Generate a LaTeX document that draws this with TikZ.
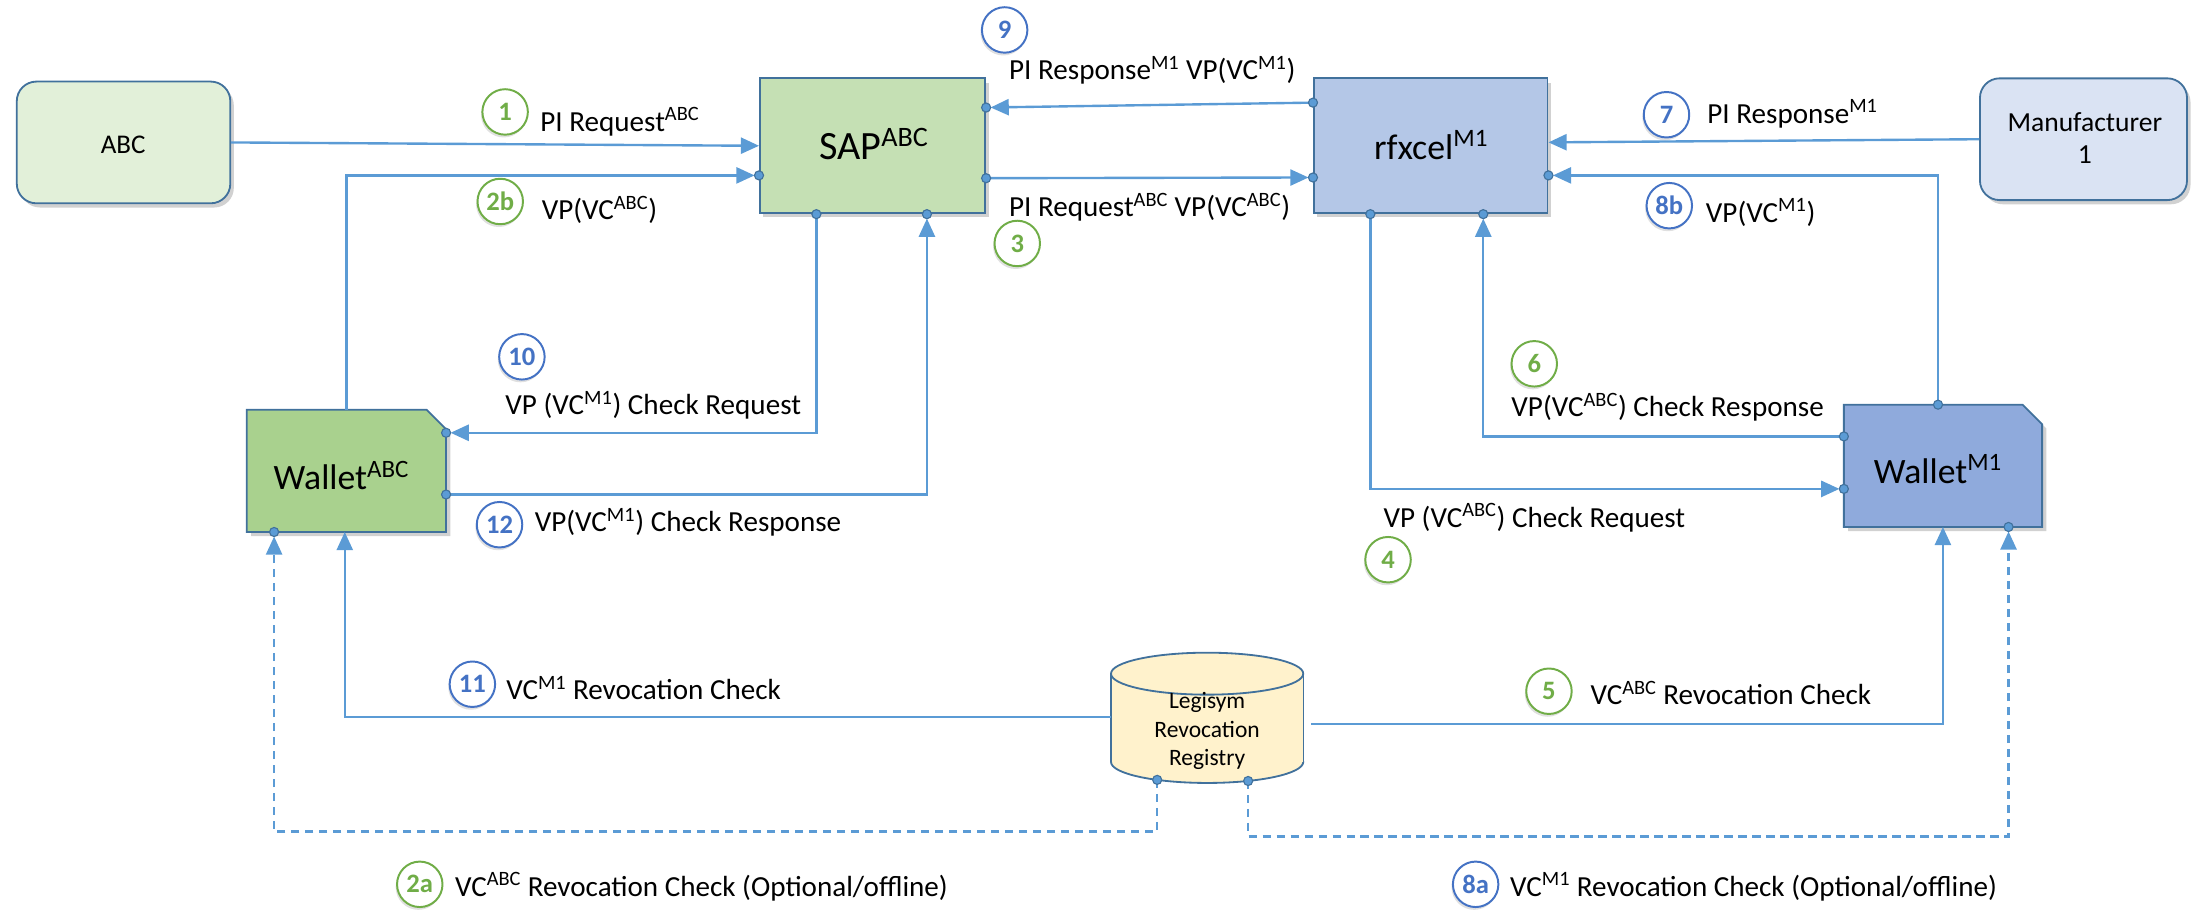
\documentclass[tikz,border=0pt]{standalone}
\usepackage{fontspec}
\setmainfont{Carlito}
\usetikzlibrary{arrows.meta,calc,shadows}
\definecolor{ln}{HTML}{5B9BD5}
\definecolor{bd}{HTML}{41719C}
\definecolor{abcf}{HTML}{E2F0D9}
\definecolor{sapf}{HTML}{C5E0B4}
\definecolor{rff}{HTML}{B4C7E7}
\definecolor{mff}{HTML}{DAE3F3}
\definecolor{waf}{HTML}{A9D18E}
\definecolor{wmf}{HTML}{8FAADC}
\definecolor{regf}{HTML}{FFF2CC}
\definecolor{ng}{HTML}{70AD47}
\definecolor{nb}{HTML}{4472C4}
\pgfdeclarelayer{bg}
\pgfsetlayers{bg,main}
\begin{document}
\begin{tikzpicture}[x=1pt,y=-1pt,
  nbox/.style={draw=bd, line width=1.3pt, inner sep=0pt},
  shad/.style={drop shadow={shadow xshift=2.5pt, shadow yshift=-3pt, opacity=0.3, fill=black!60}},
  conn/.style={draw=ln, line width=1.7pt},
  arr/.style={conn, -{Triangle[length=13pt,width=11.5pt]}},
  dsh/.style={dash pattern=on 6pt off 4pt},
  jdot/.style={circle, fill=ln, draw=bd, line width=0.8pt, inner sep=0pt, minimum size=6.5pt},
  lbl/.style={font=\fontsize{20.8}{25}\selectfont, inner sep=0pt, anchor=base west},
  btxt/.style={inner sep=0pt, anchor=base},
  ncirc/.style={circle, draw=#1, line width=1.4pt, text=#1, fill=white, minimum size=32.5pt, inner sep=0pt, font=\fontsize{19}{22}\selectfont\bfseries, drop shadow={shadow xshift=-1pt, shadow yshift=-2pt, opacity=0.2, fill=black!60}},
]
\useasboundingbox (0,0) rectangle (1568,650);

% main boxes
\node[nbox, rounded corners=14pt, fill=abcf, minimum width=152.6pt, minimum height=87pt, shad] (abc) at (88.3,101.8) {};
\node[btxt, font=\fontsize{19.3}{23}\selectfont] (abct) at (88,109.5) {ABC};
\node[nbox, fill=sapf, minimum width=161pt, minimum height=96.4pt, shad] (sap) at (623.6,104.2) {};
\node[btxt, font=\fontsize{28.7}{34}\selectfont] (sapt) at (624.6,113.8) {SAP\textsuperscript{ABC}};
\node[nbox, fill=rff, minimum width=167pt, minimum height=96.4pt, shad] (rf) at (1022.5,104.2) {};
\node[btxt, font=\fontsize{25.6}{30}\selectfont] (rft) at (1022.8,113.8) {rfxcel\textsuperscript{M1}};
\node[nbox, rounded corners=14pt, fill=mff, minimum width=148pt, minimum height=87pt, shad] (mf) at (1489,99.5) {};
\node[btxt, font=\fontsize{19.7}{23}\selectfont] (mft1) at (1490,94) {Manufacturer};
\node[btxt, font=\fontsize{19.7}{23}\selectfont] (mft2) at (1490,116.7) {1};

% wallets (outline drawn on background)
\node[minimum width=142pt, minimum height=87pt, inner sep=0pt] (wa) at (247.6,336.5) {};
\node[btxt, font=\fontsize{25.5}{30}\selectfont] (wat) at (244,350) {Wallet\textsuperscript{ABC}};
\node[minimum width=141.3pt, minimum height=87pt, inner sep=0pt] (wm) at (1388.6,332.9) {};
\node[btxt, font=\fontsize{25.5}{30}\selectfont] (wmt) at (1385,345.2) {Wallet\textsuperscript{M1}};
% registry
\node[minimum width=137.4pt, minimum height=92.7pt, inner sep=0pt] (reg) at (862.7,513) {};
\node[align=center, inner sep=0pt, font=\fontsize{16.8}{20.5}\selectfont] (regt) at (862.7,522.5) {Legisym\\Revocation\\Registry};

\begin{pgfonlayer}{bg}
  \fill[black!60, opacity=0.3] ([shift={(3,3)}]wa.north west) -- ([shift={(-11,3)}]wa.north east) -- ([shift={(3,17)}]wa.north east) -- ([shift={(3,3)}]wa.south east) -- ([shift={(3,3)}]wa.south west) -- cycle;
  \filldraw[fill=waf, draw=bd, line width=1.3pt] (wa.north west) -- ([xshift=-14pt]wa.north east) -- ([yshift=-14pt]wa.north east) -- (wa.south east) -- (wa.south west) -- cycle;
  \fill[black!60, opacity=0.3] ([shift={(3,3)}]wm.north west) -- ([shift={(-11,3)}]wm.north east) -- ([shift={(3,17)}]wm.north east) -- ([shift={(3,3)}]wm.south east) -- ([shift={(3,3)}]wm.south west) -- cycle;
  \filldraw[fill=wmf, draw=bd, line width=1.3pt] (wm.north west) -- ([xshift=-14pt]wm.north east) -- ([yshift=-14pt]wm.north east) -- (wm.south east) -- (wm.south west) -- cycle;
  % cylinder
  \filldraw[fill=regf, draw=bd, line width=1.3pt] ([yshift=15pt]reg.south) ellipse [x radius=68.7pt, y radius=15pt];
  \fill[regf] ([yshift=-15pt]reg.north west) rectangle ([yshift=15pt]reg.south east);
  \draw[bd, line width=1.3pt] ([yshift=-15pt]reg.north west) -- ([yshift=15pt]reg.south west) ([yshift=-15pt]reg.north east) -- ([yshift=15pt]reg.south east);
  \filldraw[fill=regf, draw=bd, line width=1.3pt] ([yshift=-15pt]reg.north) ellipse [x radius=68.7pt, y radius=15pt];
\end{pgfonlayer}

% connection points
\coordinate (sapL2b) at ($(sap.north west)+(0,70)$);
\coordinate (sapR9) at ($(sap.north east)+(0,21.5)$);
\coordinate (sapR3) at ($(sap.north east)+(0,72)$);
\coordinate (sapB10) at ($(sap.south west)+(41,0)$);
\coordinate (sapB12) at ($(sap.south west)+(120,0)$);
\coordinate (rfL9) at ($(rf.north west)+(0,18)$);
\coordinate (rfL3) at ($(rf.north west)+(0,71.5)$);
\coordinate (rfR7) at ($(rf.north east)+(0,46.4)$);
\coordinate (rfR8b) at ($(rf.north east)+(0,70)$);
\coordinate (rfB4) at ($(rf.south west)+(41,0)$);
\coordinate (rfB6) at ($(rf.south west)+(121.7,0)$);
\coordinate (waT) at (wa.north);
\coordinate (waR10) at ($(wa.north east)+(0,16.5)$);
\coordinate (waR12) at ($(wa.north east)+(0,60.6)$);
\coordinate (waB2a) at ($(wa.south west)+(19.5,0)$);
\coordinate (waB11) at ($(wa.south west)+(70,0)$);
\coordinate (wmT) at ($(wm.north west)+(67.3,0)$);
\coordinate (wmL6) at ($(wm.north west)+(0,22.7)$);
\coordinate (wmL4) at ($(wm.north west)+(0,60.2)$);
\coordinate (wmB5) at ($(wm.south west)+(70.8,0)$);
\coordinate (wmB8a) at ($(wm.south west)+(117.7,0)$);
\coordinate (regL) at ($(reg.west)+(0,-0.4)$);
\coordinate (regR) at ($(reg.east)+(5.6,4.4)$);
\coordinate (regB1) at ($(reg.south)+(-35.7,-2.2)$);
\coordinate (regB2) at ($(reg.south)+(29.3,-1.4)$);

% connectors
\draw[arr] (abc.east) -- (sap.west);
\draw[arr, shorten >=3.2pt] (waT) |- (sapL2b);
\draw[arr, shorten >=3.2pt] (sapR3) -- (rfL3);
\draw[arr, shorten >=3.2pt] (rfL9) -- (sapR9);
\draw[arr] (mf.west) -- (rfR7);
\draw[arr, shorten >=3.2pt] (wmT) |- (rfR8b);
\draw[arr, shorten >=3.2pt] (sapB10) |- (waR10);
\draw[arr, shorten >=3.2pt] (waR12) -| (sapB12);
\draw[arr, shorten >=3.2pt] (rfB4) |- (wmL4);
\draw[arr, shorten >=3.2pt] (wmL6) -| (rfB6);
\draw[arr] (regL) -| (waB11);
\draw[arr] (regR) -| (wmB5);
\draw[arr, dsh, shorten >=3.2pt] (regB1) -- ++(0,37) -| (waB2a);
\draw[arr, dsh, shorten >=3.2pt] (regB2) -- ++(0,39.7) -| (wmB8a);

% dots
\foreach \p in {sapL2b,sapR9,sapR3,sapB10,sapB12,rfL9,rfL3,rfR8b,rfB4,rfB6,waR10,waR12,waB2a,wmT,wmL6,wmL4,wmB8a,regB1,regB2}
  \node[jdot] (d\p) at (\p) {};

% step numbers and labels
\node[ncirc=ng] (n1) at (361,80) {1};
\node[lbl] (t1) at (386,94) {PI Request\textsuperscript{ABC}};
\node[ncirc=ng] (n2b) at (357.5,144) {2b};
\node[lbl] (t2b) at (387,157) {VP(VC\textsuperscript{ABC})};
\node[ncirc=nb] (n9) at (718,21.4) {9};
\node[lbl] (t9) at (721,57) {PI Response\textsuperscript{M1} VP(VC\textsuperscript{M1})};
\node[ncirc=ng] (n3) at (727,174) {3};
\node[lbl] (t3) at (721,155) {PI Request\textsuperscript{ABC} VP(VC\textsuperscript{ABC})};
\node[ncirc=nb] (n7) at (1191,82) {7};
\node[lbl] (t7) at (1220,88) {PI Response\textsuperscript{M1}};
\node[ncirc=nb] (n8b) at (1193,147) {8b};
\node[lbl] (t8b) at (1219,159) {VP(VC\textsuperscript{M1})};
\node[ncirc=nb] (n10) at (373,255) {10};
\node[lbl] (t10) at (361,296.5) {VP (VC\textsuperscript{M1}) Check Request};
\node[ncirc=nb] (n12) at (357,375) {12};
\node[lbl] (t12) at (382,380) {VP(VC\textsuperscript{M1}) Check Response};
\node[ncirc=ng] (n6) at (1096.5,260) {6};
\node[lbl] (t6) at (1080,298) {VP(VC\textsuperscript{ABC}) Check Response};
\node[ncirc=ng] (n4) at (992,400) {4};
\node[lbl] (t4) at (988.6,377) {VP (VC\textsuperscript{ABC}) Check Request};
\node[ncirc=nb] (n11) at (337.6,489) {11};
\node[lbl] (t11) at (361.6,500) {VC\textsuperscript{M1} Revocation Check};
\node[ncirc=ng] (n5) at (1107,494) {5};
\node[lbl] (t5) at (1136.5,503.6) {VC\textsuperscript{ABC} Revocation Check};
\node[ncirc=ng] (n2a) at (300,632) {2a};
\node[lbl] (t2a) at (325,640.5) {VC\textsuperscript{ABC} Revocation Check (Optional/offline)};
\node[ncirc=nb] (n8a) at (1054.6,632) {8a};
\node[lbl] (t8a) at (1079,640.5) {VC\textsuperscript{M1} Revocation Check (Optional/offline)};
\end{tikzpicture}
\end{document}
